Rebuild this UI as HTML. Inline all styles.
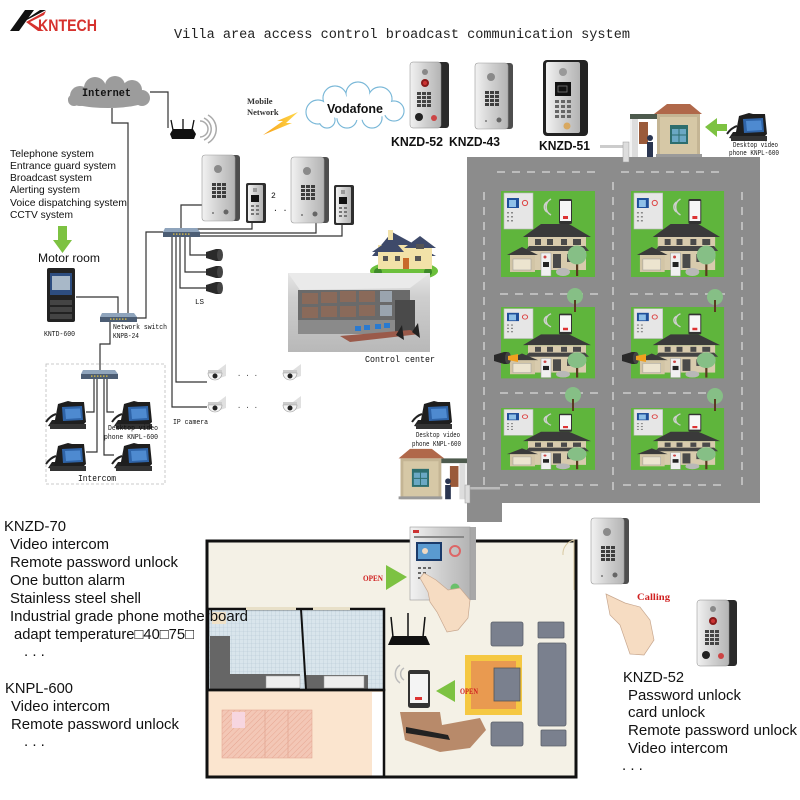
<!DOCTYPE html>
<html><head><meta charset="utf-8"><style>
html,body{margin:0;padding:0;background:#fff}
svg{display:block}
</style></head><body>
<svg width="800" height="800" viewBox="0 0 800 800" xmlns="http://www.w3.org/2000/svg">
<defs>
<linearGradient id="steel" x1="0" x2="1" y1="0" y2="0"><stop offset="0" stop-color="#f2f2f2"/><stop offset=".5" stop-color="#d0d0d0"/><stop offset="1" stop-color="#b4b4b4"/></linearGradient>
<linearGradient id="bolt" x1="0" x2="1"><stop offset="0" stop-color="#f7a21b"/><stop offset="1" stop-color="#ffd84a"/></linearGradient>
<linearGradient id="cc" x1="0" x2="0" y1="0" y2="1"><stop offset="0" stop-color="#e6e6e6"/><stop offset=".3" stop-color="#cfcfcf"/><stop offset="1" stop-color="#b8b8b8"/></linearGradient>
<pattern id="grid" width="4" height="4" patternUnits="userSpaceOnUse"><rect width="4" height="4" fill="#d9e5ec"/><path d="M4 0V4M0 4H4" stroke="#b4c6d2" stroke-width=".6"/></pattern>
<pattern id="hatch" width="4" height="4" patternUnits="userSpaceOnUse" patternTransform="rotate(45)"><rect width="4" height="4" fill="#f3c7b6"/><path d="M0 0V4" stroke="#e7a792" stroke-width="1"/></pattern>

<g id="st43">
<rect x="0" y="0" width="38" height="66" rx="3" fill="#4e4e4e"/>
<rect x="0" y="0" width="33" height="66" rx="3" fill="url(#steel)" stroke="#999" stroke-width=".6"/>
<circle cx="16" cy="14" r="4" fill="#8a8a8a"/>
<g fill="#3e3e3e"><rect x="10" y="28" width="4" height="3"/><rect x="15" y="28" width="4" height="3"/><rect x="20" y="28" width="4" height="3"/><rect x="10" y="32" width="4" height="3"/><rect x="15" y="32" width="4" height="3"/><rect x="20" y="32" width="4" height="3"/><rect x="10" y="36" width="4" height="3"/><rect x="15" y="36" width="4" height="3"/><rect x="20" y="36" width="4" height="3"/><rect x="10" y="40" width="4" height="3"/><rect x="15" y="40" width="4" height="3"/><rect x="20" y="40" width="4" height="3"/></g>
<circle cx="24" cy="57" r="2.5" fill="#666"/><circle cx="11" cy="58" r="1" fill="#777"/>
</g>
<g id="st51s">
<rect x="0" y="0" width="20" height="40" rx="2" fill="#2e2e2e"/>
<rect x="2" y="2" width="15" height="36" rx="1" fill="url(#steel)"/>
<rect x="5" y="12" width="8" height="7" fill="#111"/>
<g fill="#777"><rect x="5" y="22" width="3" height="2"/><rect x="10" y="22" width="3" height="2"/><rect x="5" y="26" width="3" height="2"/><rect x="10" y="26" width="3" height="2"/><rect x="5" y="30" width="3" height="2"/><rect x="10" y="30" width="3" height="2"/></g>
<rect x="7" y="5" width="4" height="4" fill="#999"/>
</g>
<g id="phone">
<path d="M2 28 L6 22 L12 22 L8 29 Z" fill="#222"/>
<path d="M8 27 L12 6 L22 3 L26 4 L38 4 L40 24 L36 28 Z" fill="#1e1e1e"/>
<path d="M16 9 L36 8 L37 22 L17 23 Z" fill="#2f64a8"/>
<path d="M19 11 L34 10.5 L35 20 L20 21 Z" fill="#4e8ad0"/>
<rect x="4" y="26" width="36" height="5" fill="#333"/>
<path d="M0 24 Q4 18 10 16" stroke="#222" stroke-width="2" fill="none"/>
</g>
<g id="spk">
<path d="M0 3 L10 0 L14 0 L14 12 L10 12 L0 9 Z" fill="#2a2a2a"/>
<ellipse cx="14" cy="6" rx="3" ry="6" fill="#444"/>
</g>
<g id="cam">
<path d="M12 0 L20 -6 L20 6 L14 8 Z" fill="#e0e0e0"/>
<rect x="2" y="0" width="14" height="3" fill="#ccc"/>
<path d="M2 3 A7 7 0 0 0 16 3 Z" fill="#f4f4f4" stroke="#999" stroke-width=".6"/>
<circle cx="9" cy="6" r="2.5" fill="#222"/>
</g>
<g id="sw">
<path d="M2 0 L34 0 L37 4 L0 4 Z" fill="#8fa4bc"/>
<rect x="0" y="4" width="37" height="5" fill="#4c5d74"/>
<g fill="#e8c840"><rect x="10" y="5.5" width="1.5" height="1.2"/><rect x="13" y="5.5" width="1.5" height="1.2"/><rect x="16" y="5.5" width="1.5" height="1.2"/><rect x="19" y="5.5" width="1.5" height="1.2"/><rect x="22" y="5.5" width="1.5" height="1.2"/><rect x="25" y="5.5" width="1.5" height="1.2"/></g>
</g>
<g id="villa">
<rect width="94" height="86" fill="#5fb53c"/>
<rect x="3" y="2" width="29" height="36" fill="#e6e6e6" stroke="#b8b8b8" stroke-width=".6"/>
<rect x="6" y="7" width="12" height="10" fill="#1f4f9a"/>
<rect x="8" y="9" width="7" height="7" fill="#8fc0e8"/>
<circle cx="24" cy="12" r="2.6" fill="none" stroke="#d44" stroke-width="1"/>
<g fill="#888"><rect x="6" y="21" width="2" height="1.5"/><rect x="10" y="21" width="2" height="1.5"/><rect x="6" y="25" width="2" height="1.5"/><rect x="10" y="25" width="2" height="1.5"/><rect x="6" y="29" width="2" height="1.5"/><rect x="10" y="29" width="2" height="1.5"/></g>
<path d="M50 24 A9 9 0 0 1 50 8 M46 21 A6 6 0 0 1 46 11" stroke="#cfcfcf" stroke-width="1.5" fill="none"/>
<rect x="58" y="8" width="13" height="25" rx="1.5" fill="#333"/>
<rect x="59" y="10" width="11" height="20" fill="#f6f6f6"/>
<rect x="62" y="25" width="5" height="3" fill="#d33"/>
<polygon points="22,46 40,33 68,33 90,46" fill="#3a3a3a"/>
<rect x="27" y="46" width="58" height="33" fill="#d8cbad"/>
<polygon points="24,60 88,60 84,55 28,55" fill="#444"/>
<g fill="#4a4a4a"><rect x="34" y="48" width="6" height="6"/><rect x="46" y="48" width="6" height="6"/><rect x="60" y="48" width="6" height="6"/><rect x="72" y="48" width="8" height="6"/><rect x="52" y="63" width="8" height="14"/><rect x="66" y="63" width="6" height="8"/><rect x="76" y="63" width="6" height="8"/></g>
<rect x="9" y="63" width="25" height="18" fill="#d2c5a6"/>
<polygon points="6,64 21,56 37,64" fill="#3a3a3a"/>
<rect x="12" y="68" width="18" height="11" fill="#ece4cf" stroke="#999" stroke-width=".5"/>
<rect x="40" y="62" width="10" height="23" fill="#f0f0f0" stroke="#999" stroke-width=".5"/>
<rect x="42" y="71" width="6" height="5" fill="#222"/>
<circle cx="44" cy="66" r="1.5" fill="#c44"/>
<ellipse cx="62" cy="81" rx="7" ry="4" fill="#b8b8b8"/>
<rect x="75" y="68" width="2.2" height="17" fill="#5a3a20"/>
<circle cx="76" cy="64" r="9.5" fill="#86bf86"/>
</g>
<g id="gh">
<polygon points="0,14 8,14 8,55 0,55" fill="#f2f2f2"/>
<rect x="0" y="12" width="28" height="5" fill="#4d5a4d"/>
<rect x="2" y="17" width="6" height="38" fill="#ddd"/>
<rect x="9" y="20" width="9" height="22" fill="#9a5a3a"/>
<rect x="17" y="40" width="6" height="15" fill="#2a3550"/>
<circle cx="20" cy="36" r="3" fill="#2a3550"/>
<polygon points="24,12 37,2 60,2 72,12" fill="#b0684a"/>
<rect x="27" y="12" width="43" height="43" fill="#c4b594"/>
<rect x="30" y="15" width="37" height="37" fill="#d6c8a6"/>
<rect x="40" y="23" width="18" height="19" fill="#2d6e6e"/>
<rect x="42" y="27" width="14" height="13" fill="#6aa8c4"/>
<path d="M49 27 V40 M42 33 H56" stroke="#2d6e6e" stroke-width="1"/>
<rect x="26" y="52" width="46" height="3" fill="#9a9a9a"/>
</g>
</defs>

<!-- logo -->
<polygon points="10,31 25,10 34,10 19,31" fill="#111"/>
<polygon points="21,23 46,10 40,10 28,18" fill="#111"/>
<polygon points="26,22 46,11 44,15 30,22 44,31 38,31" fill="#d6322e"/>
<text x="38" y="31" font-family="Liberation Sans, sans-serif" font-weight="bold" font-size="17" fill="#d6322e" textLength="59" lengthAdjust="spacingAndGlyphs">KNTECH</text>

<!-- title -->
<text x="174" y="38" font-family="Liberation Mono, monospace" font-size="13.5" fill="#222" textLength="456" lengthAdjust="spacingAndGlyphs">Villa area access control broadcast communication system</text>

<!-- internet cloud -->
<g fill="#9c9c9c">
<ellipse cx="108" cy="99" rx="40" ry="9"/>
<circle cx="80" cy="96" r="10"/><circle cx="95" cy="88" r="11"/><circle cx="115" cy="86" r="10"/><circle cx="132" cy="90" r="10"/><circle cx="142" cy="98" r="8"/><circle cx="74" cy="100" r="6"/>
</g>
<text x="82" y="96" font-family="Liberation Mono, monospace" font-weight="bold" font-size="11" fill="#111" textLength="49" lengthAdjust="spacingAndGlyphs">Internet</text>

<g stroke="#333" stroke-width="1.2" fill="none">
<path d="M150 92 H168 V128"/>
<path d="M112 108 V123 H128 V313"/>
<path d="M76 297 H118 V313"/>
<path d="M137 318 H146 V232 H163"/>
<path d="M110 322 V344 H100 V370"/>
<path d="M94 378 V412 H86"/>
<path d="M97 378 V452 H86"/>
<path d="M104 378 V455 H114"/>
<path d="M107 378 V412 H114"/>
<path d="M181 228 V205 H202"/>
<path d="M195 229 H252 V222"/>
<path d="M198 233 H316 V222"/>
<path d="M198 236 H342 V223"/>
<path d="M172 237 V407 H207"/>
<path d="M176 237 V382 H207"/>
<path d="M180 237 V288 H207"/>
<path d="M185 237 V272 H207"/>
<path d="M190 237 V255 H207"/>
</g>

<!-- router top -->
<line x1="173" y1="130" x2="171" y2="120" stroke="#111" stroke-width="1.3"/>
<line x1="183" y1="130" x2="183" y2="119" stroke="#111" stroke-width="1.3"/>
<line x1="192" y1="130" x2="194" y2="120" stroke="#111" stroke-width="1.3"/>
<path d="M170 134 L173 129 L193 129 L196 134 L194 139 L172 139 Z" fill="#111"/>
<path d="M200 121 A8 8 0 0 1 200 137 M204 118 A12 12 0 0 1 204 140 M208 115 A16 16 0 0 1 208 143" stroke="#aaa" stroke-width="1.5" fill="none"/>

<!-- mobile network -->
<text x="247" y="104" font-family="Liberation Serif, serif" font-weight="bold" font-size="8.5" fill="#333">Mobile</text>
<text x="247" y="115" font-family="Liberation Serif, serif" font-weight="bold" font-size="8.5" fill="#333">Network</text>
<polygon points="263,135 283,121 277,121 298,112 286,123 292,123" fill="url(#bolt)"/>

<!-- vodafone cloud -->
<g fill="#fff" stroke="#7ab8d8" stroke-width="1.2">
<circle cx="318" cy="112" r="12"/><circle cx="335" cy="98" r="12"/><circle cx="358" cy="94" r="12"/><circle cx="380" cy="99" r="12"/><circle cx="394" cy="111" r="10"/><circle cx="372" cy="118" r="10"/><circle cx="347" cy="118" r="10"/><circle cx="327" cy="120" r="8"/>
</g>
<g fill="#fff">
<circle cx="318" cy="112" r="11.3"/><circle cx="335" cy="98" r="11.3"/><circle cx="358" cy="94" r="11.3"/><circle cx="380" cy="99" r="11.3"/><circle cx="394" cy="111" r="9.3"/><circle cx="372" cy="118" r="9.3"/><circle cx="347" cy="118" r="9.3"/><circle cx="327" cy="120" r="7.3"/><ellipse cx="356" cy="108" rx="36" ry="12"/>
</g>
<text x="327" y="113" font-family="Liberation Sans, sans-serif" font-weight="bold" font-size="13" fill="#111" textLength="56" lengthAdjust="spacingAndGlyphs">Vodafone</text>

<!-- top products -->
<g>
<rect x="410" y="62" width="39" height="66" rx="3" fill="#2a2a2a"/>
<rect x="410" y="62" width="31" height="66" rx="3" fill="url(#steel)" stroke="#888" stroke-width=".5"/>
<circle cx="425" cy="72" r="3" fill="#888"/>
<circle cx="425" cy="83" r="4" fill="#8a1a1a"/><circle cx="425" cy="83" r="2" fill="#c33"/>
<g fill="#444"><rect x="417" y="92" width="4" height="3"/><rect x="422" y="92" width="4" height="3"/><rect x="427" y="92" width="4" height="3"/><rect x="417" y="96" width="4" height="3"/><rect x="422" y="96" width="4" height="3"/><rect x="427" y="96" width="4" height="3"/><rect x="417" y="100" width="4" height="3"/><rect x="422" y="100" width="4" height="3"/><rect x="427" y="100" width="4" height="3"/><rect x="417" y="104" width="4" height="3"/><rect x="422" y="104" width="4" height="3"/><rect x="427" y="104" width="4" height="3"/></g>
<circle cx="419" cy="117" r="4" fill="#222"/><circle cx="434" cy="118" r="3" fill="#c44"/>
</g>
<use href="#st43" x="475" y="63"/>
<g>
<rect x="543" y="60" width="45" height="76" rx="4" fill="#222"/>
<rect x="546" y="62" width="34" height="71" rx="2" fill="url(#steel)"/>
<circle cx="563" cy="72" r="4" fill="#999"/>
<rect x="555" y="82" width="16" height="14" fill="#111"/><rect x="558" y="86" width="9" height="6" fill="none" stroke="#777" stroke-width=".8"/>
<g fill="#666"><rect x="555" y="100" width="4" height="3"/><rect x="561" y="100" width="4" height="3"/><rect x="567" y="100" width="4" height="3"/><rect x="555" y="105" width="4" height="3"/><rect x="561" y="105" width="4" height="3"/><rect x="567" y="105" width="4" height="3"/><rect x="555" y="110" width="4" height="3"/><rect x="561" y="110" width="4" height="3"/><rect x="567" y="110" width="4" height="3"/><rect x="555" y="115" width="4" height="3"/><rect x="561" y="115" width="4" height="3"/><rect x="567" y="115" width="4" height="3"/></g>
<circle cx="567" cy="126" r="3.5" fill="#d8a860"/>
</g>
<g font-family="Liberation Sans, sans-serif" font-weight="bold" font-size="12.5" fill="#111">
<text x="391" y="146" textLength="52" lengthAdjust="spacingAndGlyphs">KNZD-52</text>
<text x="449" y="146" textLength="51" lengthAdjust="spacingAndGlyphs">KNZD-43</text>
<text x="539" y="150" textLength="51" lengthAdjust="spacingAndGlyphs">KNZD-51</text>
</g>

<!-- left list -->
<g font-family="Liberation Sans, sans-serif" font-size="10.5" fill="#111">
<text x="10" y="157" textLength="84" lengthAdjust="spacingAndGlyphs">Telephone system</text>
<text x="10" y="169" textLength="106" lengthAdjust="spacingAndGlyphs">Entrance guard system</text>
<text x="10" y="181" textLength="82" lengthAdjust="spacingAndGlyphs">Broadcast system</text>
<text x="10" y="193" textLength="70" lengthAdjust="spacingAndGlyphs">Alerting system</text>
<text x="10" y="206" textLength="117" lengthAdjust="spacingAndGlyphs">Voice dispatching system</text>
<text x="10" y="218" textLength="63" lengthAdjust="spacingAndGlyphs">CCTV system</text>
</g>
<polygon points="58,226 67,226 67,240 72,240 62.5,253 53,240 58,240" fill="#7dc242"/>
<text x="38" y="262" font-family="Liberation Sans, sans-serif" font-size="12" fill="#111" textLength="62" lengthAdjust="spacingAndGlyphs">Motor room</text>

<!-- KNTD-600 server -->
<rect x="47" y="268" width="28" height="54" rx="2" fill="#222"/>
<rect x="50" y="273" width="22" height="22" fill="#2d4d80"/>
<rect x="52" y="276" width="18" height="14" fill="#a8b8c8"/>
<g fill="#444"><rect x="50" y="300" width="22" height="5"/><rect x="50" y="307" width="22" height="5"/><rect x="50" y="314" width="22" height="5"/></g>
<text x="44" y="336" font-family="Liberation Mono, monospace" font-size="7.5" fill="#111" textLength="31" lengthAdjust="spacingAndGlyphs">KNTD-600</text>

<!-- switches -->
<use href="#sw" x="100" y="313"/>
<use href="#sw" x="163" y="228"/>
<use href="#sw" x="81" y="370"/>
<g font-family="Liberation Mono, monospace" font-size="7.5" fill="#111">
<text x="113" y="329" textLength="54" lengthAdjust="spacingAndGlyphs">Network switch</text>
<text x="113" y="338" textLength="26" lengthAdjust="spacingAndGlyphs">KNPB-24</text>
<text x="195" y="304">LS</text>
<text x="173" y="424" textLength="35" lengthAdjust="spacingAndGlyphs">IP camera</text>
</g>

<!-- intercom box -->
<rect x="46" y="364" width="119" height="120" fill="none" stroke="#bbb" stroke-width=".8" stroke-dasharray="3,2"/>
<use href="#phone" x="46" y="398"/>
<use href="#phone" x="112" y="398"/>
<use href="#phone" x="46" y="440"/>
<use href="#phone" x="112" y="440"/>
<g font-family="Liberation Mono, monospace" font-size="7.5" fill="#111">
<text x="108" y="430" textLength="50" lengthAdjust="spacingAndGlyphs">Desktop video</text>
<text x="104" y="439" textLength="54" lengthAdjust="spacingAndGlyphs">phone KNPL-600</text>
</g>
<text x="78" y="481" font-family="Liberation Mono, monospace" font-size="9.5" fill="#111" textLength="38" lengthAdjust="spacingAndGlyphs">Intercom</text>

<!-- door stations middle -->
<use href="#st43" x="202" y="155"/>
<use href="#st51s" x="246" y="183"/>
<text x="271" y="198" font-family="Liberation Mono, monospace" font-size="8" fill="#111">2</text>
<text x="273" y="211" font-family="Liberation Mono, monospace" font-size="8" fill="#111">. . .</text>
<use href="#st43" x="291" y="157"/>
<use href="#st51s" x="334" y="185"/>

<!-- speakers -->
<use href="#spk" x="206" y="249"/>
<use href="#spk" x="206" y="266"/>
<use href="#spk" x="206" y="282"/>

<!-- cameras -->
<use href="#cam" x="206" y="370"/>
<use href="#cam" x="281" y="370"/>
<use href="#cam" x="206" y="402"/>
<use href="#cam" x="281" y="402"/>
<text x="237" y="376" font-family="Liberation Mono, monospace" font-size="7" fill="#333">. . .</text>
<text x="237" y="408" font-family="Liberation Mono, monospace" font-size="7" fill="#333">. . .</text>

<!-- house icon -->
<ellipse cx="404" cy="271" rx="34" ry="10" fill="#6cc03c"/>
<circle cx="378" cy="272" r="4" fill="#3e8a2a"/><circle cx="428" cy="272" r="4" fill="#3e8a2a"/>
<polygon points="372,256 392,232 436,256" fill="#3e4a6a"/>
<rect x="378" y="245" width="54" height="24" fill="#f2e2a8"/>
<polygon points="372,252 404,252 392,238" fill="#3e4a6a"/>
<polygon points="404,248 420,236 436,248" fill="#3e4a6a"/>
<rect x="388" y="230" width="5" height="10" fill="#f2e2a8"/>
<g fill="#555"><rect x="383" y="256" width="5" height="5"/><rect x="395" y="256" width="5" height="5"/><rect x="415" y="256" width="6" height="5"/><rect x="416" y="244" width="8" height="5"/></g>
<rect x="403" y="258" width="6" height="11" fill="#c86a2a"/>

<!-- control center -->
<rect x="288" y="273" width="142" height="79" fill="url(#cc)"/>
<path d="M288 273 L430 273 L410 288 L300 290 Z" fill="#eaeaea"/>
<rect x="298" y="290" width="112" height="30" fill="#6a6a6a"/>
<g fill="#8a6a5a"><rect x="302" y="293" width="16" height="11"/><rect x="321" y="292" width="16" height="11"/><rect x="340" y="291" width="16" height="11"/><rect x="359" y="291" width="16" height="11"/><rect x="302" y="307" width="16" height="11"/><rect x="321" y="306" width="16" height="11"/><rect x="340" y="306" width="16" height="11"/><rect x="359" y="305" width="16" height="11"/></g>
<g fill="#9aa4ae"><rect x="380" y="291" width="12" height="11"/><rect x="380" y="305" width="12" height="11"/></g>
<rect x="298" y="320" width="112" height="14" fill="#8a8a8a"/>
<rect x="395" y="300" width="20" height="34" fill="#4a4a4a"/>
<polygon points="340,336 410,330 420,334 350,342" fill="#9a5a4a"/>
<g fill="#2a7ad0"><rect x="355" y="326" width="6" height="5"/><rect x="364" y="325" width="6" height="5"/><rect x="375" y="324" width="6" height="5"/><rect x="384" y="323" width="6" height="5"/></g>
<path d="M396 335 L402 325 L404 340 Z M412 332 L418 323 L420 338 Z" fill="#222"/>
<text x="365" y="362" font-family="Liberation Mono, monospace" font-size="9.5" fill="#111" textLength="70" lengthAdjust="spacingAndGlyphs">Control center</text>

<!-- road area -->
<path d="M467 157 H760 V503 H502 V522 H467 Z" fill="#8c8c8c"/>
<g stroke="#d8d8d8" stroke-width="1.3" stroke-dasharray="8,7">
<path d="M497 172 H600 M621 172 H725"/>
<path d="M500 294 H598 M630 294 H725"/>
<path d="M500 393 H598 M623 393 H725"/>
<path d="M500 485 H598 M623 485 H725"/>
<path d="M484 192 V492 M613 182 V492 M742 192 V492"/>
</g>
<use href="#villa" transform="translate(501,191)"/>
<use href="#villa" transform="translate(631,191) scale(0.99,1)"/>
<use href="#villa" transform="translate(501,307) scale(1,0.83)"/>
<use href="#villa" transform="translate(631,307) scale(0.99,0.83)"/>
<use href="#villa" transform="translate(501,408) scale(1,0.72)"/>
<use href="#villa" transform="translate(631,408) scale(0.99,0.72)"/>
<!-- trees & speakers on row 2/3 -->
<g fill="#86bf86"><circle cx="575" cy="296" r="8"/><circle cx="715" cy="297" r="8"/><circle cx="573" cy="395" r="8"/><circle cx="715" cy="396" r="8"/></g>
<g fill="#5a3a20"><rect x="574" y="300" width="2" height="12"/><rect x="714" y="300" width="2" height="12"/><rect x="572" y="399" width="2" height="12"/><rect x="714" y="399" width="2" height="12"/></g>
<use href="#spk" x="494" y="352"/>
<use href="#spk" x="622" y="352"/>
<polygon points="508,356 518,354 518,362 508,360" fill="#f0a020"/>
<polygon points="636,356 646,354 646,362 636,360" fill="#f0a020"/>

<!-- gatehouse top -->
<use href="#gh" x="630" y="102"/>
<rect x="600" y="145" width="28" height="3" fill="#ccc"/>
<rect x="623" y="142" width="6" height="20" fill="#ddd" stroke="#999" stroke-width=".5"/>
<polygon points="705,127 717,118 717,124 727,124 727,131 717,131 717,137" fill="#7dc242"/>
<use href="#phone" x="727" y="110"/>
<g font-family="Liberation Mono, monospace" font-size="7" fill="#111">
<text x="733" y="147" textLength="45" lengthAdjust="spacingAndGlyphs">Desktop video</text>
<text x="729" y="155" textLength="50" lengthAdjust="spacingAndGlyphs">phone KNPL-600</text>
</g>

<!-- gatehouse bottom -->
<use href="#phone" x="412" y="398"/>
<g font-family="Liberation Mono, monospace" font-size="7" fill="#111">
<text x="416" y="437" textLength="44" lengthAdjust="spacingAndGlyphs">Desktop video</text>
<text x="412" y="446" textLength="49" lengthAdjust="spacingAndGlyphs">phone KNPL-600</text>
</g>
<g transform="translate(467,447) scale(-0.95,0.95)"><use href="#gh"/></g>
<rect x="468" y="487" width="32" height="2.5" fill="#bbb"/>
<rect x="465" y="485" width="5" height="18" fill="#ddd" stroke="#999" stroke-width=".5"/>

<!-- floor plan -->
<rect x="207" y="541" width="369" height="236" fill="#f4f1e6"/>
<rect x="208" y="609" width="176" height="81" fill="url(#grid)"/>
<path d="M210 636 H230 V674 H300 V690 H210 Z" fill="#666"/>
<rect x="306" y="675" width="62" height="15" fill="#666"/>
<rect x="266" y="676" width="34" height="12" fill="#eee" stroke="#999" stroke-width=".5"/>
<rect x="324" y="676" width="40" height="12" fill="#eee" stroke="#999" stroke-width=".5"/>
<rect x="212" y="612" width="14" height="12" fill="#f0e2c8"/>
<rect x="208" y="690" width="176" height="87" fill="#fbe5cf"/>
<rect x="372" y="692" width="11" height="84" fill="#fff"/>
<rect x="222" y="710" width="90" height="48" fill="url(#hatch)" stroke="#e3a894" stroke-width=".6"/>
<rect x="232" y="712" width="13" height="16" fill="#f7d6e0"/>
<path d="M265 710 V758 M288 710 V758" stroke="#e3a894" stroke-width=".8"/>
<g stroke="#111" fill="none">
<rect x="207" y="541" width="369" height="236" stroke-width="3"/>
<rect x="208" y="609" width="176" height="81" stroke-width="2.5"/>
<path d="M301 609 L306 690" stroke-width="2"/>
<path d="M208 690 H384 V777" stroke-width="2.5"/>
</g>
<rect x="246" y="607" width="50" height="3" fill="#e8e0c8"/>
<rect x="313" y="607" width="37" height="3" fill="#e8e0c8"/>
<!-- living room furniture -->
<g fill="#7a808e" stroke="#5a5f6a" stroke-width=".8">
<rect x="491" y="622" width="32" height="24" rx="2"/>
<rect x="538" y="622" width="26" height="16" rx="1"/>
<rect x="538" y="643" width="28" height="83" rx="2"/>
<rect x="491" y="722" width="32" height="24" rx="2"/>
<rect x="541" y="730" width="25" height="16" rx="1"/>
</g>
<rect x="465" y="655" width="57" height="60" fill="#f5c842"/>
<rect x="471" y="661" width="45" height="48" fill="#e99a50"/>
<rect x="494" y="668" width="26" height="33" fill="#7a808e" stroke="#555" stroke-width=".8"/>
<!-- KNZD-70 panel -->
<rect x="410" y="527" width="66" height="73" fill="#a8a8a8"/>
<rect x="410" y="527" width="60" height="73" fill="url(#steel)" stroke="#999" stroke-width=".6"/>
<rect x="413" y="530" width="6" height="3" fill="#c33"/>
<rect x="414" y="536" width="50" height="2" fill="#888"/>
<rect x="416" y="542" width="26" height="19" fill="#1a3a6a"/>
<rect x="418" y="544" width="22" height="15" fill="#5a9ad0"/>
<circle cx="425" cy="551" r="3" fill="#f0d8c0"/>
<circle cx="455" cy="551" r="5" fill="none" stroke="#d66" stroke-width="2"/>
<g fill="#666"><rect x="418" y="567" width="3" height="2"/><rect x="423" y="567" width="3" height="2"/><rect x="428" y="567" width="3" height="2"/><rect x="418" y="572" width="3" height="2"/><rect x="423" y="572" width="3" height="2"/><rect x="418" y="577" width="3" height="2"/><rect x="423" y="577" width="3" height="2"/></g>
<circle cx="455" cy="588" r="4.5" fill="#6ac06a"/>
<polygon points="386,565 407,577 386,590" fill="#7dc242"/>
<text x="363" y="581" font-family="Liberation Serif, serif" font-weight="bold" font-size="8.5" fill="#d02020" textLength="20" lengthAdjust="spacingAndGlyphs">OPEN</text>
<!-- hand pressing -->
<path d="M424 573 L436 580 L448 590 L460 588 L470 600 L468 618 L458 630 L447 632 L437 612 L430 602 L428 592 L420 578 Z" fill="#f6dcc2" stroke="#c8a890" stroke-width=".7"/>
<!-- router in room -->
<line x1="393" y1="637" x2="391" y2="617" stroke="#111" stroke-width="1.5"/>
<line x1="408" y1="637" x2="408" y2="613" stroke="#111" stroke-width="1.5"/>
<line x1="423" y1="637" x2="425" y2="617" stroke="#111" stroke-width="1.5"/>
<path d="M388 645 L392 636 L426 636 L430 645 Z" fill="#111"/>
<!-- phone in room -->
<path d="M404 680 A7 7 0 0 1 404 668 M400 683 A11 11 0 0 1 400 665" stroke="#bbb" stroke-width="1.5" fill="none"/>
<rect x="408" y="670" width="22" height="38" rx="2.5" fill="#333"/>
<rect x="410" y="674" width="18" height="29" fill="#f4f4f4"/>
<rect x="415" y="697" width="7" height="3" fill="#d33"/>
<polygon points="455,680 455,702 436,691" fill="#7dc242"/>
<text x="460" y="694" font-family="Liberation Serif, serif" font-weight="bold" font-size="8.5" fill="#d02020" textLength="18" lengthAdjust="spacingAndGlyphs">OPEN</text>
<path d="M400 712 L440 712 L442 725 L480 718 L486 730 L470 748 L440 752 L405 740 Z" fill="#b88a6a"/>
<path d="M406 727 L448 735 L450 740 L406 733 Z" fill="#222"/>

<!-- right door station & hand -->
<path d="M563 555 A14 14 0 0 1 574 540 L574 590" stroke="#d8c8a0" stroke-width="1" fill="none"/>
<use href="#st43" x="591" y="518"/>
<path d="M606 594 L625 603 L640 607 L650 620 L654 640 L644 655 L630 654 L620 625 L610 615 Z" fill="#f6dcc2" stroke="#c8a890" stroke-width=".7"/>
<text x="637" y="600" font-family="Liberation Serif, serif" font-weight="bold" font-size="9" fill="#d02020" textLength="33" lengthAdjust="spacingAndGlyphs">Calling</text>
<g>
<rect x="697" y="600" width="40" height="66" rx="3" fill="#2a2a2a"/>
<rect x="697" y="600" width="32" height="66" rx="3" fill="url(#steel)" stroke="#888" stroke-width=".5"/>
<circle cx="713" cy="609" r="3" fill="#888"/>
<circle cx="713" cy="621" r="4" fill="#8a1a1a"/><circle cx="713" cy="621" r="2" fill="#c33"/>
<g fill="#444"><rect x="705" y="630" width="4" height="3"/><rect x="710" y="630" width="4" height="3"/><rect x="715" y="630" width="4" height="3"/><rect x="705" y="634" width="4" height="3"/><rect x="710" y="634" width="4" height="3"/><rect x="715" y="634" width="4" height="3"/><rect x="705" y="638" width="4" height="3"/><rect x="710" y="638" width="4" height="3"/><rect x="715" y="638" width="4" height="3"/><rect x="705" y="642" width="4" height="3"/><rect x="710" y="642" width="4" height="3"/><rect x="715" y="642" width="4" height="3"/></g>
<circle cx="706" cy="655" r="4" fill="#222"/><circle cx="721" cy="656" r="3" fill="#c44"/>
</g>

<!-- bottom-left text -->
<g font-family="Liberation Sans, sans-serif" font-size="15" fill="#111">
<text x="4" y="531" textLength="62" lengthAdjust="spacingAndGlyphs">KNZD-70</text>
<text x="10" y="549" textLength="99" lengthAdjust="spacingAndGlyphs">Video intercom</text>
<text x="10" y="567" textLength="168" lengthAdjust="spacingAndGlyphs">Remote password unlock</text>
<text x="10" y="585" textLength="115" lengthAdjust="spacingAndGlyphs">One button alarm</text>
<text x="10" y="603" textLength="131" lengthAdjust="spacingAndGlyphs">Stainless steel shell</text>
<text x="10" y="621" textLength="238" lengthAdjust="spacingAndGlyphs">Industrial grade phone motherboard</text>
<text x="14" y="639" textLength="180" lengthAdjust="spacingAndGlyphs">adapt temperature□40□75□</text>
<text x="24" y="656">. . .</text>
<text x="5" y="693" textLength="68" lengthAdjust="spacingAndGlyphs">KNPL-600</text>
<text x="11" y="711" textLength="99" lengthAdjust="spacingAndGlyphs">Video intercom</text>
<text x="11" y="729" textLength="168" lengthAdjust="spacingAndGlyphs">Remote password unlock</text>
<text x="24" y="746">. . .</text>
</g>
<!-- bottom-right text -->
<g font-family="Liberation Sans, sans-serif" font-size="15" fill="#111">
<text x="623" y="682" textLength="61" lengthAdjust="spacingAndGlyphs">KNZD-52</text>
<text x="628" y="700" textLength="113" lengthAdjust="spacingAndGlyphs">Password unlock</text>
<text x="628" y="717" textLength="77" lengthAdjust="spacingAndGlyphs">card unlock</text>
<text x="628" y="735" textLength="169" lengthAdjust="spacingAndGlyphs">Remote password unlock</text>
<text x="628" y="753" textLength="100" lengthAdjust="spacingAndGlyphs">Video intercom</text>
<text x="622" y="770">. . .</text>
</g>
</svg>
</body></html>
